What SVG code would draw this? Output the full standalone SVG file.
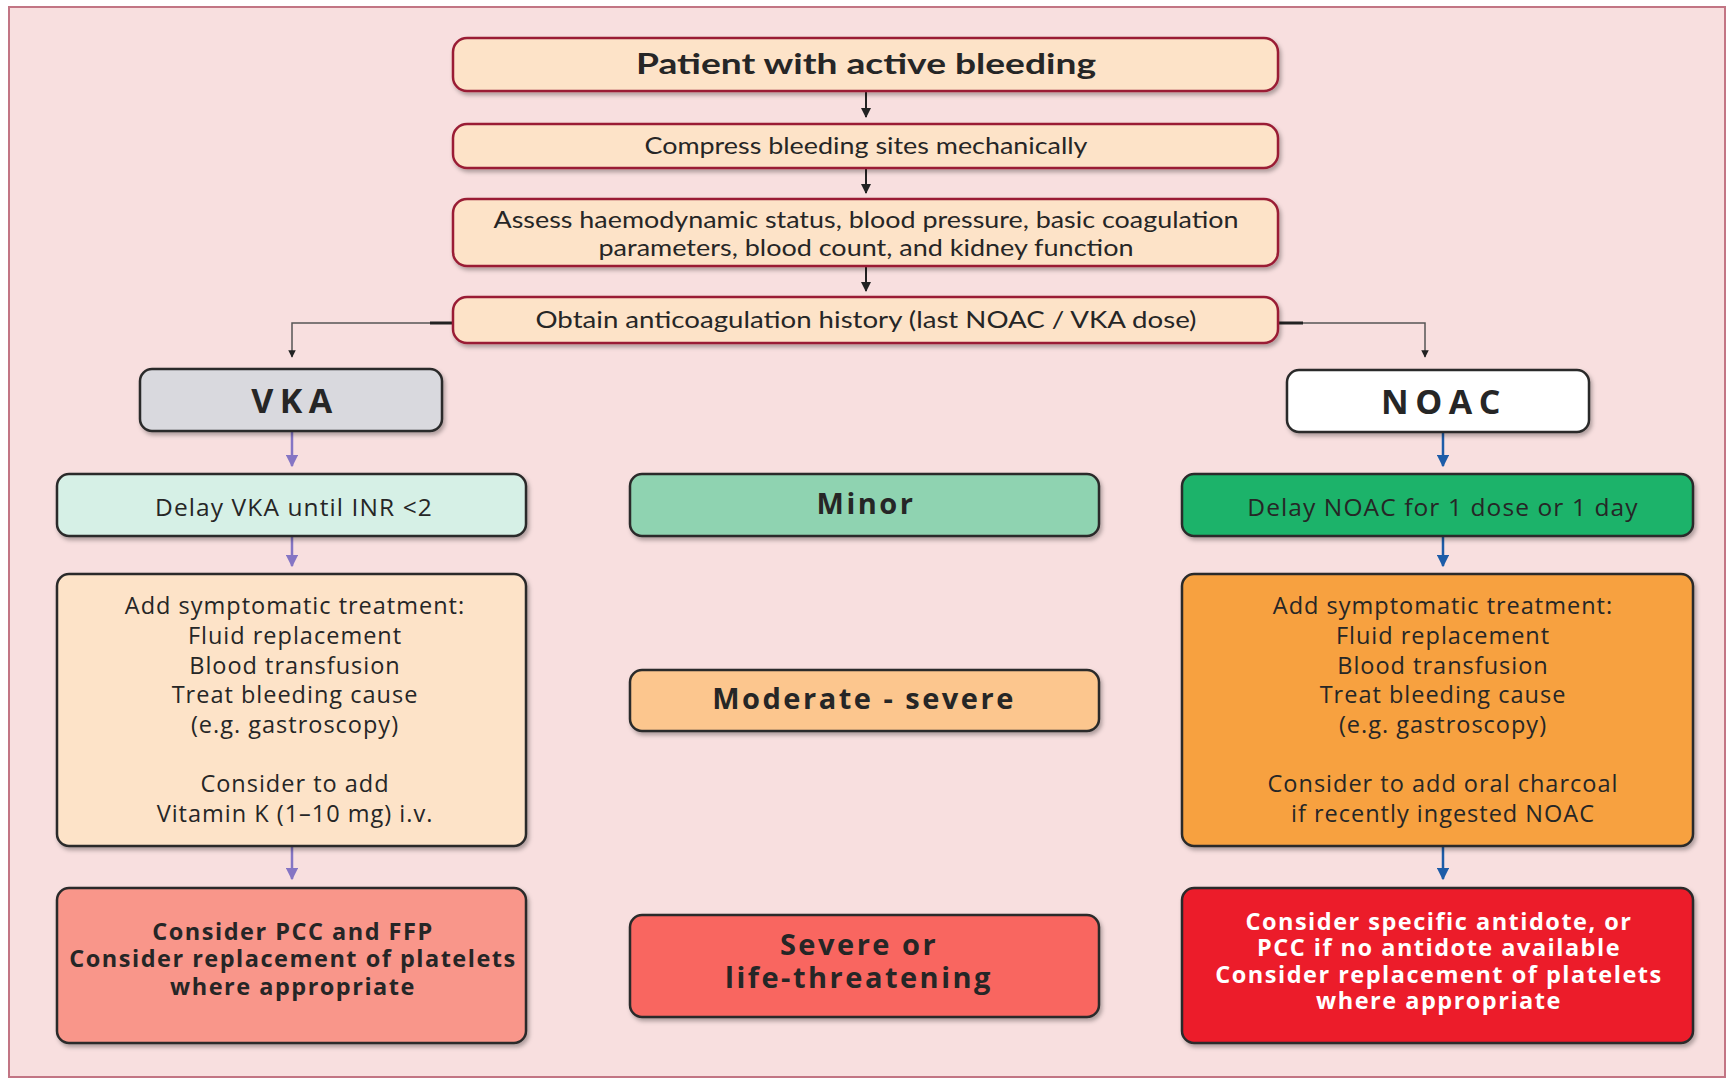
<svg xmlns="http://www.w3.org/2000/svg" width="1727" height="1080" viewBox="0 0 1727 1080">
<style>
  .t { font-family: Lato, "Open Sans", "Liberation Sans", sans-serif; fill: #262626; text-anchor: middle; }
  .o { font-family: "Open Sans", Lato, "Liberation Sans", sans-serif; fill: #262626; text-anchor: middle; }
  .b { font-weight: 700; }
  .w { fill: #ffffff; }
  .s { font-size: 23.5px; letter-spacing: 1px; }
  .r2 { font-size: 24.5px; letter-spacing: 1.1px; }
  .sb { font-size: 23.5px; letter-spacing: 1.5px; font-weight: 700; }
  .m { font-size: 29px; letter-spacing: 2.5px; font-weight: 700; }
  .h { font-size: 34px; letter-spacing: 6.5px; font-weight: 700; }
  .top { stroke: #9a1f35; stroke-width: 2.5; fill: #fde3c8; }
  .low { stroke: #2b2b2b; stroke-width: 2.5; }
  .blk { stroke: #222; stroke-width: 2; fill: none; }
  .pur { stroke: #8575c4; stroke-width: 2.5; fill: none; }
  .blu { stroke: #1d5ca8; stroke-width: 2.5; fill: none; }
  .gry { stroke: #555; stroke-width: 1.5; fill: none; }
</style>
<defs>
  <filter id="sh" x="-10%" y="-20%" width="120%" height="150%">
    <feDropShadow dx="2" dy="3" stdDeviation="2" flood-color="#000" flood-opacity="0.3"/>
  </filter>
  <marker id="ak" viewBox="0 0 10 10" refX="9" refY="5" markerWidth="5" markerHeight="5" orient="auto" markerUnits="strokeWidth">
    <path d="M0,0 L10,5 L0,10 z" fill="#222"/>
  </marker>
  <marker id="ap" viewBox="0 0 10 10" refX="9" refY="5" markerWidth="5" markerHeight="5" orient="auto" markerUnits="strokeWidth">
    <path d="M0,0 L10,5 L0,10 z" fill="#8575c4"/>
  </marker>
  <marker id="ab" viewBox="0 0 10 10" refX="9" refY="5" markerWidth="5" markerHeight="5" orient="auto" markerUnits="strokeWidth">
    <path d="M0,0 L10,5 L0,10 z" fill="#1d5ca8"/>
  </marker>
</defs>

<rect x="0" y="0" width="1727" height="1080" fill="#ffffff"/>
<rect x="9" y="7" width="1716" height="1070" fill="#f8dfdf" stroke="#c27584" stroke-width="2"/>

<g id="connectors">
  <line class="blk" x1="866" y1="92" x2="866" y2="117" marker-end="url(#ak)"/>
  <line class="blk" x1="866" y1="169" x2="866" y2="193" marker-end="url(#ak)"/>
  <line class="blk" x1="866" y1="267" x2="866" y2="291" marker-end="url(#ak)"/>
  <line x1="430" y1="323" x2="453" y2="323" stroke="#222" stroke-width="3"/>
  <polyline class="gry" points="430,323 292,323 292,357" marker-end="url(#ak)"/>
  <line x1="1278" y1="323" x2="1303" y2="323" stroke="#222" stroke-width="3"/>
  <polyline class="gry" points="1303,323 1425,323 1425,357" marker-end="url(#ak)"/>
  <line class="pur" x1="292" y1="432" x2="292" y2="466" marker-end="url(#ap)"/>
  <line class="pur" x1="292" y1="537" x2="292" y2="566" marker-end="url(#ap)"/>
  <line class="pur" x1="292" y1="847" x2="292" y2="879" marker-end="url(#ap)"/>
  <line class="blu" x1="1443" y1="432" x2="1443" y2="466" marker-end="url(#ab)"/>
  <line class="blu" x1="1443" y1="537" x2="1443" y2="566" marker-end="url(#ab)"/>
  <line class="blu" x1="1443" y1="847" x2="1443" y2="879" marker-end="url(#ab)"/>
</g>

<g id="n-patient">
  <rect class="top" x="453" y="38" width="825" height="53" rx="14" filter="url(#sh)"/>
  <text class="t b" x="866" y="74" font-size="28" textLength="460" lengthAdjust="spacingAndGlyphs">Patient with active bleeding</text>
</g>
<g id="n-compress">
  <rect class="top" x="453" y="124" width="825" height="44" rx="14" filter="url(#sh)"/>
  <text class="t" x="866" y="154" font-size="24" textLength="443" lengthAdjust="spacingAndGlyphs">Compress bleeding sites mechanically</text>
</g>
<g id="n-assess">
  <rect class="top" x="453" y="199" width="825" height="67" rx="14" filter="url(#sh)"/>
  <text class="t" x="866" y="228" font-size="23" textLength="745" lengthAdjust="spacingAndGlyphs">Assess haemodynamic status, blood pressure, basic coagulation</text>
  <text class="t" x="866" y="256" font-size="23" textLength="535" lengthAdjust="spacingAndGlyphs">parameters, blood count, and kidney function</text>
</g>
<g id="n-history">
  <rect class="top" x="453" y="297" width="825" height="46" rx="14" filter="url(#sh)"/>
  <text class="t" x="866" y="328" font-size="23" textLength="661" lengthAdjust="spacingAndGlyphs">Obtain anticoagulation history (last NOAC / VKA dose)</text>
</g>

<g id="n-vka">
  <rect class="low" x="140" y="369" width="302" height="62" rx="12" fill="#d9d9de" filter="url(#sh)"/>
  <text class="o h" x="295" y="413">VKA</text>
</g>
<g id="n-noac">
  <rect class="low" x="1287" y="370" width="302" height="62" rx="12" fill="#ffffff" filter="url(#sh)"/>
  <text class="o h" x="1444" y="414">NOAC</text>
</g>

<g id="n-vka-delay">
  <rect class="low" x="57" y="474" width="469" height="62" rx="12" fill="#d6f0e6" filter="url(#sh)"/>
  <text class="o r2" x="294" y="516">Delay VKA until INR &lt;2</text>
</g>
<g id="n-minor">
  <rect class="low" x="630" y="474" width="469" height="62" rx="12" fill="#8fd3b1" filter="url(#sh)"/>
  <text class="o m" x="866" y="514">Minor</text>
</g>
<g id="n-noac-delay">
  <rect class="low" x="1182" y="474" width="511" height="62" rx="12" fill="#1db36a" filter="url(#sh)"/>
  <text class="o r2" x="1443" y="516">Delay NOAC for 1 dose or 1 day</text>
</g>

<g id="n-vka-sympt">
  <rect class="low" x="57" y="574" width="469" height="272" rx="12" fill="#fde3c8" filter="url(#sh)"/>
  <text class="o s" x="295" y="614">Add symptomatic treatment:</text>
  <text class="o s" x="295" y="644">Fluid replacement</text>
  <text class="o s" x="295" y="674">Blood transfusion</text>
  <text class="o s" x="295" y="703">Treat bleeding cause</text>
  <text class="o s" x="295" y="733">(e.g. gastroscopy)</text>
  <text class="o s" x="295" y="792">Consider to add</text>
  <text class="o s" x="295" y="822">Vitamin K (1–10 mg) i.v.</text>
</g>
<g id="n-moderate">
  <rect class="low" x="630" y="670" width="469" height="61" rx="12" fill="#fcc68e" filter="url(#sh)"/>
  <text class="o m" x="864" y="709">Moderate - severe</text>
</g>
<g id="n-noac-sympt">
  <rect class="low" x="1182" y="574" width="511" height="272" rx="12" fill="#f7a140" filter="url(#sh)"/>
  <text class="o s" x="1443" y="614">Add symptomatic treatment:</text>
  <text class="o s" x="1443" y="644">Fluid replacement</text>
  <text class="o s" x="1443" y="674">Blood transfusion</text>
  <text class="o s" x="1443" y="703">Treat bleeding cause</text>
  <text class="o s" x="1443" y="733">(e.g. gastroscopy)</text>
  <text class="o s" x="1443" y="792">Consider to add oral charcoal</text>
  <text class="o s" x="1443" y="822">if recently ingested NOAC</text>
</g>

<g id="n-vka-pcc">
  <rect class="low" x="57" y="888" width="469" height="155" rx="12" fill="#f9968a" filter="url(#sh)"/>
  <text class="o sb" x="293" y="940">Consider PCC and FFP</text>
  <text class="o sb" x="293" y="967">Consider replacement of platelets</text>
  <text class="o sb" x="293" y="995">where appropriate</text>
</g>
<g id="n-severe">
  <rect class="low" x="630" y="915" width="469" height="102" rx="12" fill="#f96660" filter="url(#sh)"/>
  <text class="o m" x="859" y="955">Severe or</text>
  <text class="o m" x="859" y="988">life-threatening</text>
</g>
<g id="n-noac-antidote">
  <rect class="low" x="1182" y="888" width="511" height="155" rx="12" fill="#ec1c2c" filter="url(#sh)"/>
  <text class="o sb w" x="1439" y="930">Consider specific antidote, or</text>
  <text class="o sb w" x="1439" y="956">PCC if no antidote available</text>
  <text class="o sb w" x="1439" y="983">Consider replacement of platelets</text>
  <text class="o sb w" x="1439" y="1009">where appropriate</text>
</g>
</svg>
